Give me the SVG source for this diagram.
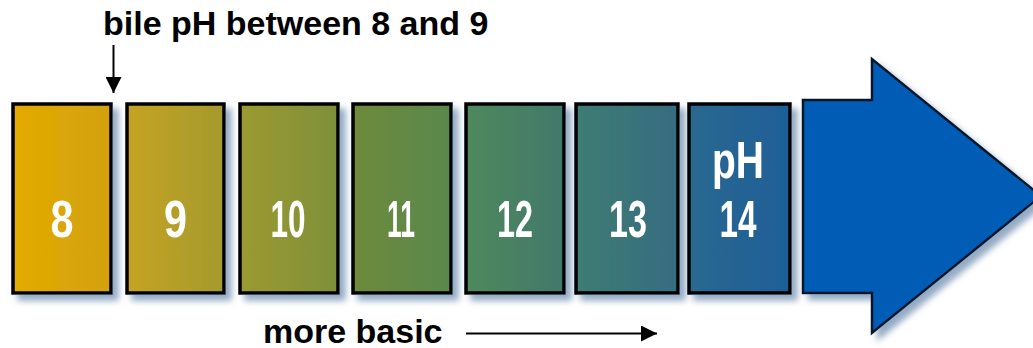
<svg xmlns="http://www.w3.org/2000/svg" width="1033" height="348" viewBox="0 0 1033 348">
  <style>
    .box { stroke: #000; stroke-width: 3.5; }
    .num { font-family: "Liberation Sans", Arial, sans-serif; font-weight: bold; font-size: 52px; fill: #fff; text-anchor: middle; }
    .label { font-family: "Liberation Sans", Arial, sans-serif; font-weight: bold; font-size: 34px; fill: #000; }
    .line { stroke: #000; stroke-width: 2; fill: none; }
  </style>
  <defs>
    <filter id="shadow" x="-20%" y="-20%" width="150%" height="150%">
      <feDropShadow dx="6" dy="6" stdDeviation="3" flood-color="#6f8fb0" flood-opacity="0.75"/>
    </filter>
    <linearGradient id="g8" x1="0" x2="1"><stop offset="0" stop-color="#e4ab00"/><stop offset="1" stop-color="#d2a10e"/></linearGradient>
    <linearGradient id="g9" x1="0" x2="1"><stop offset="0" stop-color="#c6a322"/><stop offset="1" stop-color="#a49a2e"/></linearGradient>
    <linearGradient id="g10" x1="0" x2="1"><stop offset="0" stop-color="#9c9a30"/><stop offset="1" stop-color="#7e903a"/></linearGradient>
    <linearGradient id="g11" x1="0" x2="1"><stop offset="0" stop-color="#6e8a3c"/><stop offset="1" stop-color="#59884c"/></linearGradient>
    <linearGradient id="g12" x1="0" x2="1"><stop offset="0" stop-color="#4f895c"/><stop offset="1" stop-color="#41786c"/></linearGradient>
    <linearGradient id="g13" x1="0" x2="1"><stop offset="0" stop-color="#3e7c72"/><stop offset="1" stop-color="#366c82"/></linearGradient>
    <linearGradient id="g14" x1="0" x2="1"><stop offset="0" stop-color="#2a6890"/><stop offset="1" stop-color="#1e5f98"/></linearGradient>
    <marker id="head" viewBox="0 0 10 10" refX="10" refY="5" markerWidth="16" markerHeight="16" markerUnits="userSpaceOnUse" orient="auto">
      <path d="M0,0 L10,5 L0,10 z" fill="#000"/>
    </marker>
  </defs>

  <!-- pH scale boxes -->
  <g id="ph8" filter="url(#shadow)">
    <rect class="box" x="13" y="104" width="98" height="189" fill="url(#g8)"/>
    <text class="num" x="62" y="237" textLength="23" lengthAdjust="spacingAndGlyphs">8</text>
  </g>
  <g id="ph9" filter="url(#shadow)">
    <rect class="box" x="127" y="104" width="97" height="189" fill="url(#g9)"/>
    <text class="num" x="175.5" y="237" textLength="23" lengthAdjust="spacingAndGlyphs">9</text>
  </g>
  <g id="ph10" filter="url(#shadow)">
    <rect class="box" x="240" y="104" width="98" height="189" fill="url(#g10)"/>
    <text class="num" x="288" y="237" textLength="35" lengthAdjust="spacingAndGlyphs">10</text>
  </g>
  <g id="ph11" filter="url(#shadow)">
    <rect class="box" x="353" y="104" width="98" height="189" fill="url(#g11)"/>
    <text class="num" x="401" y="237" textLength="28" lengthAdjust="spacingAndGlyphs">11</text>
  </g>
  <g id="ph12" filter="url(#shadow)">
    <rect class="box" x="466" y="104" width="98" height="189" fill="url(#g12)"/>
    <text class="num" x="515" y="237" textLength="36" lengthAdjust="spacingAndGlyphs">12</text>
  </g>
  <g id="ph13" filter="url(#shadow)">
    <rect class="box" x="576" y="104" width="102" height="189" fill="url(#g13)"/>
    <text class="num" x="628" y="237" textLength="38" lengthAdjust="spacingAndGlyphs">13</text>
  </g>
  <g id="ph14" filter="url(#shadow)">
    <rect class="box" x="689" y="104" width="101" height="189" fill="url(#g14)"/>
    <text class="num" x="738" y="178" textLength="52" lengthAdjust="spacingAndGlyphs">pH</text>
    <text class="num" x="738" y="237" textLength="37" lengthAdjust="spacingAndGlyphs">14</text>
  </g>

  <!-- big direction arrow -->
  <g id="big-arrow" filter="url(#shadow)">
    <polygon points="803,100 872,100 872,59 1041,196 872,333 872,293 803,293" fill="#005bb5" stroke="#06162c" stroke-width="2.5" stroke-linejoin="miter"/>
  </g>

  <!-- labels -->
  <g id="bile-label">
    <text class="label" x="103" y="35">bile pH between 8 and 9</text>
  </g>
  <g id="basic-label">
    <text class="label" x="263" y="343">more basic</text>
  </g>

  <!-- connectors -->
  <g id="connectors">
    <line class="line" x1="113.5" y1="45" x2="113.5" y2="93" marker-end="url(#head)"/>
    <line class="line" x1="466" y1="333.5" x2="657" y2="333.5" marker-end="url(#head)"/>
  </g>
</svg>
